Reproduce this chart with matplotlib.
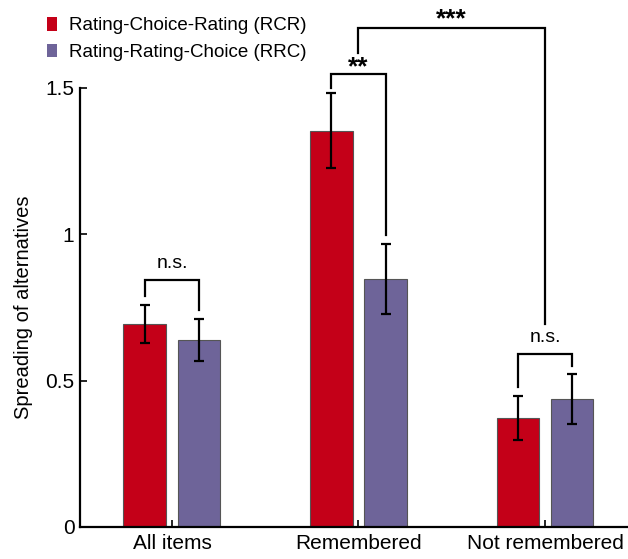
import matplotlib.pyplot as plt
import numpy as np
from matplotlib.patches import Patch

plt.rcParams['font.family'] = ['Liberation Sans Narrow', 'Liberation Sans', 'DejaVu Sans']

groups = ['All items', 'Remembered', 'Not remembered']
series = ['Rating-Choice-Rating (RCR)', 'Rating-Rating-Choice (RRC)']
rcr_mean = [0.694, 1.353, 0.372]
rcr_err = [0.064, 0.128, 0.076]
rrc_mean = [0.639, 0.847, 0.437]
rrc_err = [0.073, 0.119, 0.084]
colors = ['#C40018', '#6E6499']

# within-group tests, plus the Remembered vs Not remembered comparison
pair_labels = ['n.s.', '**', 'n.s.']
pair_tops = [0.844, 1.548, 0.591]
across_label = '***'
across_top = 1.706

fig = plt.figure(figsize=(6.28, 5.59), dpi=100)
ax = fig.add_axes([80 / 628, 32 / 559, 548 / 628, 527 / 559])

x = np.arange(len(groups))
off = 0.145
w = 0.23
means = [rcr_mean, rrc_mean]
errs = [rcr_err, rrc_err]
for i, (m, e) in enumerate(zip(means, errs)):
    xs = x + (i * 2 - 1) * off
    ax.bar(xs, m, w, color=colors[i], edgecolor='#555555', linewidth=0.8, zorder=2)
    ax.errorbar(xs, m, yerr=e, fmt='none', ecolor='black', elinewidth=1.6,
                capsize=3.5, capthick=1.6, zorder=3)

gap = 0.03
for g in range(len(groups)):
    xl, xr = g - off, g + off
    yl = rcr_mean[g] + rcr_err[g] + gap
    yr = rrc_mean[g] + rrc_err[g] + gap
    top = pair_tops[g]
    if g == 1:
        yl = rcr_mean[g] + rcr_err[g] + 0.02
    ax.plot([xl, xl, xr, xr], [yl, top, top, yr], color='black', lw=1.6,
            solid_joinstyle='miter', zorder=3)
    if pair_labels[g] == 'n.s.':
        ax.text(g, top + 0.028, pair_labels[g], ha='center', va='bottom', fontsize=14)
    else:
        ax.text(g, top - 0.02, pair_labels[g], ha='center', va='bottom',
                fontsize=19, fontweight='bold')

# bracket linking Remembered and Not remembered comparisons
ax.plot([1, 1, 2, 2], [pair_tops[1] + 0.07, across_top, across_top, pair_tops[2] + 0.103],
        color='black', lw=1.6, solid_joinstyle='miter', zorder=3)
ax.text(1.5, across_top - 0.013, across_label, ha='center', va='bottom',
        fontsize=19, fontweight='bold')

ax.set_xlim(-0.493, 2.445)
ax.set_ylim(0, 1.8)
ax.set_yticks([0, 0.5, 1, 1.5])
ax.set_yticklabels(['0', '0.5', '1', '1.5'])
ax.set_xticks(x)
ax.set_xticklabels(groups)
ax.tick_params(axis='both', direction='in', length=5, width=1.2, labelsize=15)
ax.tick_params(axis='y', pad=4)
ax.tick_params(axis='x', pad=5)
ax.spines['top'].set_visible(False)
ax.spines['right'].set_visible(False)
ax.spines['left'].set_bounds(0, 1.5)
ax.spines['left'].set_linewidth(1.6)
ax.spines['bottom'].set_linewidth(1.6)
ax.set_ylabel('Spreading of alternatives', fontsize=14.5)
ax.yaxis.set_label_coords(-0.085, 0.75 / 1.8)

handles = [Patch(facecolor=c, edgecolor='none') for c in colors]
fig.legend(handles, series, loc='upper left', bbox_to_anchor=(0.048, 1.0),
           frameon=False, fontsize=13.5, handlelength=0.55, handleheight=0.75,
           handletextpad=0.6, labelspacing=0.5)

fig.savefig('out.png', dpi=100)
